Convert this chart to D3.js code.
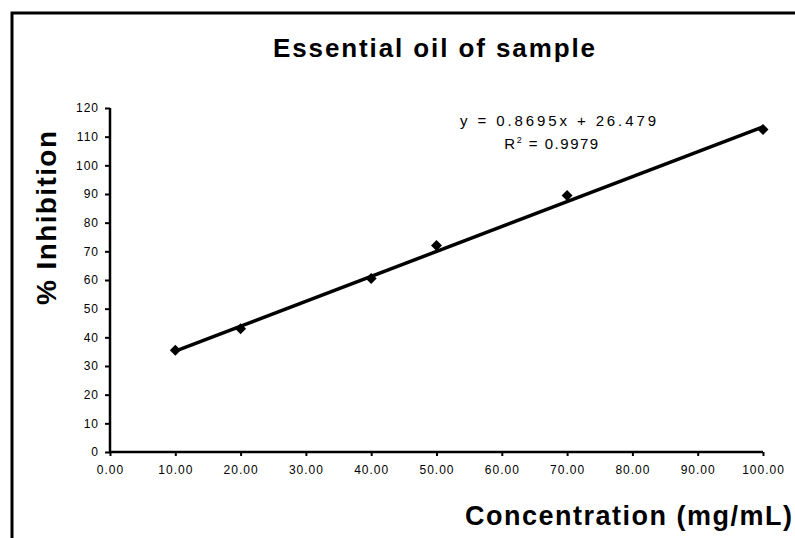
<!DOCTYPE html>
<html>
<head>
<meta charset="utf-8">
<script src="https://cdn.jsdelivr.net/npm/d3@7"></script>
<style>
  body { margin: 0; background: #fff; }
  svg { display: block; font-family: "Liberation Sans", Arial, sans-serif; }
</style>
</head>
<body>
<svg width="795" height="538"></svg>
<script>
// values
var concentration = [10, 20, 40, 50, 70, 100];
var inhibition = [35.5, 43, 60.5, 72, 89.5, 112.5];
// trendline shown on the chart (Excel linear fit)
var trendX = [10, 100];
var trendY = [35.2, 113.4];
var xTicks = [0, 10, 20, 30, 40, 50, 60, 70, 80, 90, 100];
var yTicks = [0, 10, 20, 30, 40, 50, 60, 70, 80, 90, 100, 110, 120];
var equation = "y = 0.8695x + 26.479";
var rsq = "0.9979";

var svg = d3.select("svg");

// frame of the scanned chart (only top and left edges show)
svg.append("path")
    .attr("d", "M12,538 V13 H795")
    .style("fill", "none")
    .style("stroke", "#000")
    .style("stroke-width", 3);

var x = d3.scaleLinear().domain([0, 100]).range([110, 763]);
var y = d3.scaleLinear().domain([0, 120]).range([452, 108]);

svg.append("text")
    .attr("x", 434)
    .attr("y", 57)
    .attr("text-anchor", "middle")
    .attr("textLength", 322)
    .attr("lengthAdjust", "spacing")
    .style("font-size", "26px")
    .style("font-weight", "bold")
    .text("Essential oil of sample");

// axes
var xAxis = svg.append("g")
    .attr("transform", "translate(0,452)")
    .call(d3.axisBottom(x).tickValues(xTicks).tickSize(4).tickPadding(9)
        .tickFormat(function(d) { return d3.format(".2f")(d); }));
var yAxis = svg.append("g")
    .attr("transform", "translate(110,0)")
    .call(d3.axisLeft(y).tickValues(yTicks).tickSize(5).tickPadding(6));

[xAxis, yAxis].forEach(function(a) {
    a.select(".domain").style("stroke", "#000").style("stroke-width", 2.5);
    a.selectAll(".tick line").style("stroke", "#000").style("stroke-width", 2);
    a.selectAll(".tick text")
        .style("font-size", "12px")
        .style("letter-spacing", "1px")
        .style("fill", "#000")
        .style("font-family", "\"Liberation Sans\", Arial, sans-serif");
});
xAxis.select(".domain").attr("d", "M110,0H763");
yAxis.select(".domain").attr("d", "M0,108V452");

// axis titles
svg.append("text")
    .attr("transform", "translate(56,218)rotate(-90)")
    .attr("text-anchor", "middle")
    .attr("textLength", 174)
    .attr("lengthAdjust", "spacing")
    .style("font-size", "28px")
    .style("font-weight", "bold")
    .text("% Inhibition");

svg.append("text")
    .attr("x", 465)
    .attr("y", 525)
    .attr("textLength", 327)
    .attr("lengthAdjust", "spacing")
    .style("font-size", "27px")
    .style("font-weight", "bold")
    .text("Concentration (mg/mL)");

// trendline
var line = d3.line()
    .x(function(d) { return x(d[0]); })
    .y(function(d) { return y(d[1]); });
svg.append("path")
    .datum(d3.zip(trendX, trendY))
    .attr("d", line)
    .style("fill", "none")
    .style("stroke", "#000")
    .style("stroke-width", 3.5);

// points (square markers turned 45 degrees)
svg.append("g")
    .selectAll("path")
    .data(d3.zip(concentration, inhibition))
    .enter()
    .append("path")
    .attr("transform", function(d) { return "translate(" + x(d[0]) + "," + y(d[1]) + ")rotate(45)"; })
    .attr("d", d3.symbol().type(d3.symbolSquare).size(60))
    .style("fill", "#000");

// equation label
svg.append("text")
    .attr("x", 558)
    .attr("y", 126)
    .attr("text-anchor", "middle")
    .attr("textLength", 196)
    .attr("lengthAdjust", "spacing")
    .style("font-size", "15px")
    .text(equation);

var r = svg.append("text")
    .attr("x", 552)
    .attr("y", 149)
    .attr("text-anchor", "middle")
    .style("font-size", "15px")
    .style("letter-spacing", "1.5px");
r.append("tspan").text("R");
r.append("tspan").attr("dy", -6).style("font-size", "9px").text("2");
r.append("tspan").attr("dy", 6).text(" = " + rsq);
</script>
</body>
</html>
